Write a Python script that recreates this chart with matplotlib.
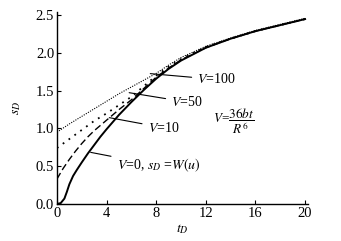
import matplotlib
matplotlib.use("Agg")
import matplotlib.pyplot as plt

plt.rcParams["font.family"] = ["Liberation Serif", "DejaVu Serif"]
plt.rcParams["mathtext.fontset"] = "stix"

# values
t_v0 = [0, 0.3, 0.6, 0.8, 1.0, 1.3, 1.6, 2, 2.5, 3, 3.5, 4, 5, 6, 7, 8, 9, 10, 12, 14, 16, 18, 20]
s_v0 = [0, 0.01, 0.07, 0.16, 0.26, 0.37, 0.45, 0.55, 0.67, 0.78, 0.89, 0.99, 1.18, 1.35, 1.51, 1.66, 1.79, 1.90, 2.07, 2.19, 2.29, 2.37, 2.45]

t_v10 = [0, 0.5, 1, 1.5, 2, 2.5, 3, 4, 5, 6, 7, 8, 9, 10, 12, 14, 16, 18, 20]
s_v10 = [0.33, 0.47, 0.59, 0.70, 0.80, 0.89, 0.97, 1.11, 1.25, 1.38, 1.53, 1.68, 1.80, 1.91, 2.07, 2.19, 2.29, 2.37, 2.45]

t_v50 = [0, 1, 2, 3, 4, 5, 6, 7, 8, 9, 10, 12, 14, 16, 18, 20]
s_v50 = [0.74, 0.86, 0.98, 1.10, 1.20, 1.31, 1.42, 1.56, 1.70, 1.82, 1.92, 2.08, 2.19, 2.29, 2.37, 2.45]

t_v100 = [0, 1, 2, 3, 4, 5, 6, 7, 8, 9, 10, 12, 14, 16, 18, 20]
s_v100 = [0.95, 1.06, 1.16, 1.26, 1.36, 1.46, 1.55, 1.64, 1.73, 1.84, 1.94, 2.09, 2.20, 2.30, 2.38, 2.46]

x_ticks = [0, 4, 8, 12, 16, 20]
y_ticks = [0.0, 0.5, 1.0, 1.5, 2.0, 2.5]

fig = plt.figure(figsize=(3.41, 2.41), dpi=100)
ax = fig.add_axes([0.167, 0.154, 0.735, 0.795])

ax.plot(t_v0, s_v0, color="black", lw=1.4, ls="-")
ax.plot(t_v10, s_v10, color="black", lw=1.0, ls=(0, (5, 2.5)))
ax.plot(t_v50, s_v50, color="black", lw=1.3, ls=(0, (1, 3)))
ax.plot(t_v100, s_v100, color="black", lw=0.8, ls=(0, (1, 1.2)))

ax.set_xlim(0, 20.2)
ax.set_ylim(0, 2.54)
ax.set_xticks(x_ticks)
ax.set_yticks(y_ticks)
ax.set_yticklabels([f"{v:.1f}" for v in y_ticks])
ax.tick_params(direction="in", length=3, width=0.8, labelsize=10.5, pad=2)
for side in ["top", "right"]:
    ax.spines[side].set_visible(False)
for side in ["left", "bottom"]:
    ax.spines[side].set_linewidth(1.0)

ax.set_xlabel(r"$t_D$", fontsize=10, labelpad=2)
ax.set_ylabel(r"$s_D$", fontsize=10, rotation=90)
ax.yaxis.set_label_coords(-0.135, 0.5)

# labels with leader lines
kw = dict(fontsize=10, va="center", ha="left")
ax.annotate(r"$V$=100", xy=(7.3, 1.73), xytext=(11.3, 1.65),
            arrowprops=dict(arrowstyle="-", lw=0.8, color="black"), **kw)
ax.annotate(r"$V$=50", xy=(5.6, 1.48), xytext=(9.2, 1.35),
            arrowprops=dict(arrowstyle="-", lw=0.8, color="black"), **kw)
ax.annotate(r"$V$=10", xy=(4.0, 1.15), xytext=(7.3, 1.01),
            arrowprops=dict(arrowstyle="-", lw=0.8, color="black"), **kw)
ax.annotate(r"$V$=0, $s_D$ =$W(u)$", xy=(2.5, 0.69), xytext=(4.8, 0.51),
            arrowprops=dict(arrowstyle="-", lw=0.8, color="black"), **kw)
ax.text(12.6, 1.1, r"$V$=$\dfrac{36bt}{R^6}$", fontsize=9.5, va="center", ha="left")

fig.savefig("out.png", dpi=100)
